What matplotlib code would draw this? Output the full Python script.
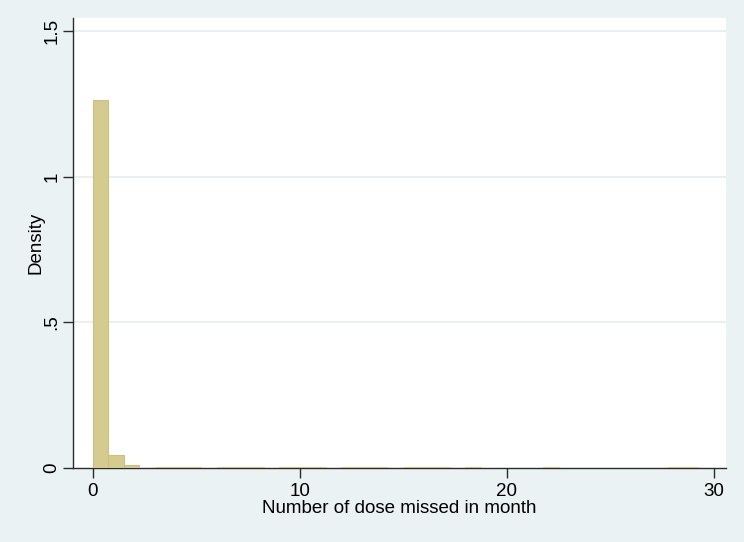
import matplotlib
matplotlib.use("Agg")
import matplotlib.pyplot as plt

plt.rcParams['font.family'] = ['Liberation Sans', 'DejaVu Sans']

# Histogram bins (left edges) and density heights
bin_left = [0.0, 0.75, 1.5, 3.0, 3.75, 4.5, 6.0, 6.75, 7.5, 9.0, 9.75, 10.5,
            12.0, 12.75, 13.5, 15.0, 15.75, 16.5, 18.0, 21.75, 27.75, 28.5]
density = [1.263, 0.045, 0.0115, 0.004, 0.004, 0.004, 0.004, 0.004, 0.004,
           0.004, 0.004, 0.004, 0.004, 0.004, 0.004, 0.004, 0.004, 0.004,
           0.004, 0.004, 0.004, 0.004]
bin_width = 0.75

x_ticks = [0, 10, 20, 30]
x_ticklabels = ["0", "10", "20", "30"]
y_ticks = [0, 0.5, 1, 1.5]
y_ticklabels = ["0", ".5", "1", "1.5"]

bg = "#eaf2f3"
fig = plt.figure(figsize=(7.44, 5.42), dpi=100, facecolor=bg)
ax = fig.add_axes([73/744, (542-468)/542, (726-73)/744, (468-18)/542])
ax.set_facecolor("white")

ax.bar(bin_left, density, width=bin_width, align='edge',
       color="#d5cb8f", edgecolor="#cbc083", linewidth=0.8, zorder=3)

ax.set_xlim(-0.95, 30.58)
ax.set_ylim(0, 1.545)

ax.set_xticks(x_ticks)
ax.set_xticklabels(x_ticklabels)
ax.set_yticks(y_ticks)
ax.set_yticklabels(y_ticklabels, rotation=90, va='center')

for y in y_ticks[1:]:
    ax.axhline(y, color="#e6eef0", linewidth=1.2, zorder=1)

for s in ["top", "right"]:
    ax.spines[s].set_visible(False)
for s in ["left", "bottom"]:
    ax.spines[s].set_color("#2b2b2b")
    ax.spines[s].set_linewidth(1.0)

ax.tick_params(axis='both', direction='out', length=7, width=1.0,
               color="#2b2b2b", labelsize=13.5, labelcolor="black")
ax.tick_params(axis='x', pad=4)
ax.tick_params(axis='y', pad=2)

ax.set_xlabel("Number of dose missed in month", fontsize=13.5, labelpad=0)
ax.set_ylabel("Density", fontsize=13.5, labelpad=-1)

fig.savefig("out.png", dpi=100, facecolor=bg)
